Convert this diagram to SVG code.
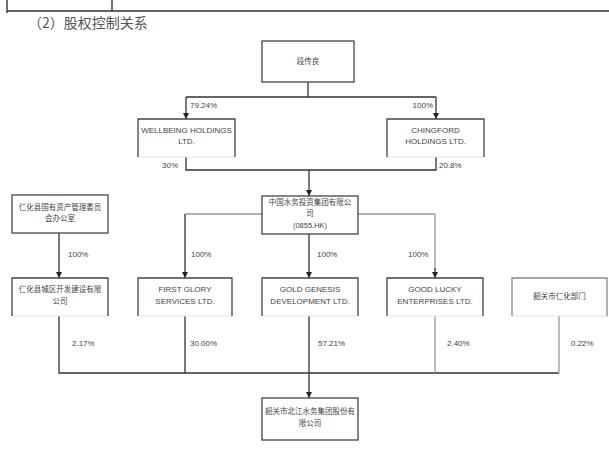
<svg xmlns="http://www.w3.org/2000/svg" width="609" height="451" viewBox="0 0 609 451">
<defs>
<marker id="arr" viewBox="0 0 10 10" refX="10" refY="5" markerWidth="6" markerHeight="6" orient="auto" markerUnits="userSpaceOnUse">
<path d="M0,0 L10,5 L0,10 z" fill="#222"/>
</marker>
<style>
.box{fill:#fff;stroke:#444;stroke-width:1.3}
.open{fill:#fff;stroke:none}
.side{fill:none;stroke:#444;stroke-width:1.3}
.faint{fill:none;stroke:#e2e2e2;stroke-width:1}
.en{font-family:"Liberation Sans",Arial,sans-serif;font-size:8px;fill:#444;text-anchor:middle}
.cn{font-family:"Liberation Sans","Noto Sans CJK SC",sans-serif;font-size:7.5px;fill:#444;text-anchor:middle}
.pct{font-family:"Liberation Sans",Arial,sans-serif;font-size:8px;fill:#444}
.ln{fill:none;stroke:#333;stroke-width:1.3}
.lt{fill:none;stroke:#999;stroke-width:1.3}
.head{font-family:"Noto Sans CJK SC",sans-serif;font-size:14px;fill:#555}
</style>
</defs>
<rect width="609" height="451" fill="#fff"/>
<g id="table">
<path d="M7 11 H609 M7 0 V13 M112 0 V11" fill="none" stroke="#333" stroke-width="1.4"/>
</g>
<text class="head" x="28" y="28">（2）股权控制关系</text>

<g id="connectors">
<path class="ln" d="M308 82 V97 M186 97 H436"/>
<path class="ln" d="M186 97 V119" marker-end="url(#arr)"/>
<path class="ln" d="M436 97 V119" marker-end="url(#arr)"/>
<path class="ln" d="M186 157 V170 H436 V157"/>
<path class="ln" d="M309 170 V196" marker-end="url(#arr)"/>
<path class="lt" d="M262 214 H185"/>
<path class="ln" d="M185 214 V278" marker-end="url(#arr)"/>
<path class="lt" d="M358 214 H435"/>
<path class="lt" d="M435 214 V270"/>
<path class="ln" d="M435 268 V278" marker-end="url(#arr)"/>
<path class="ln" d="M309 234 V278" marker-end="url(#arr)"/>
<path class="ln" d="M59 233 V278" marker-end="url(#arr)"/>
<path class="ln" d="M59 316 V373 H559 M185 316 V373"/>
<path class="lt" d="M435 316 V373 M559 316 V373"/>
<path class="ln" d="M309 316 V398" marker-end="url(#arr)"/>
<text class="pct" x="190" y="108">79.24%</text>
<text class="pct" x="433" y="108" text-anchor="end">100%</text>
<text class="pct" x="162" y="168">30%</text>
<text class="pct" x="439" y="168">20.8%</text>
<text class="pct" x="68" y="257">100%</text>
<text class="pct" x="191" y="257">100%</text>
<text class="pct" x="317" y="257">100%</text>
<text class="pct" x="408" y="257">100%</text>
<text class="pct" x="72" y="346">2.17%</text>
<text class="pct" x="190" y="346">30.00%</text>
<text class="pct" x="318" y="346">57.21%</text>
<text class="pct" x="447" y="346">2.40%</text>
<text class="pct" x="571" y="346">0.22%</text>
</g>

<g id="n-top">
<rect class="box" x="262" y="41" width="92" height="41"/>
<text class="cn" x="308" y="64" font-size="8">段传良</text>
</g>

<g id="n-wellbeing">
<rect class="open" x="138" y="119" width="97" height="38"/>
<path class="faint" d="M138 157 H235"/>
<path class="side" d="M138 157 V119 H235 V157"/>
<text class="en" x="186.5" y="133">WELLBEING HOLDINGS</text>
<text class="en" x="186.5" y="144">LTD.</text>
</g>

<g id="n-chingford">
<rect class="open" x="387" y="119" width="97" height="38"/>
<path class="faint" d="M387 157 H484"/>
<path class="side" d="M387 157 V119 H484 V157"/>
<text class="en" x="435.5" y="133">CHINGFORD</text>
<text class="en" x="435.5" y="144">HOLDINGS LTD.</text>
</g>

<g id="n-parent">
<rect class="box" x="262" y="196" width="96" height="38"/>
<text class="cn" x="310" y="205">中国水务投资集团有限公</text>
<text class="cn" x="310" y="216">司</text>
<text class="cn" x="310" y="228">(0855.HK)</text>
</g>

<g id="n-gov">
<rect class="box" x="12" y="195" width="96" height="38"/>
<text class="cn" x="60" y="210">仁化县国有资产管理委员</text>
<text class="cn" x="60" y="221">会办公室</text>
</g>

<g id="n-city">
<rect class="open" x="12" y="278" width="96" height="38"/>
<path class="faint" d="M12 316 H108"/>
<path class="side" d="M12 316 V278 H108 V316"/>
<text class="cn" x="60" y="292">仁化县城区开发建设有限</text>
<text class="cn" x="60" y="304">公司</text>
</g>

<g id="n-firstglory">
<rect class="open" x="138" y="278" width="94" height="38"/>
<path class="faint" d="M138 316 H232"/>
<path class="side" d="M138 316 V278 H232 V316"/>
<text class="en" x="185" y="292">FIRST GLORY</text>
<text class="en" x="185" y="304">SERVICES LTD.</text>
</g>

<g id="n-goldgenesis">
<rect class="open" x="262" y="278" width="96" height="38"/>
<path class="faint" d="M262 316 H358"/>
<path class="side" d="M262 316 V278 H358 V316"/>
<text class="en" x="310" y="292">GOLD GENESIS</text>
<text class="en" x="310" y="304">DEVELOPMENT LTD.</text>
</g>

<g id="n-goodlucky">
<rect class="open" x="387" y="278" width="96" height="38"/>
<path class="faint" d="M387 316 H483"/>
<path class="side" d="M387 316 V278 H483 V316"/>
<text class="en" x="435" y="292">GOOD LUCKY</text>
<text class="en" x="435" y="304">ENTERPRISES LTD.</text>
</g>

<g id="n-other">
<rect class="open" x="512" y="278" width="95" height="38"/>
<path class="faint" d="M512 316 H607"/>
<path d="M512 316 V278 H607 V316" fill="none" stroke="#888" stroke-width="1.3"/>
<text class="cn" x="559.5" y="299">韶关市仁化部门</text>
</g>

<g id="n-target">
<rect class="box" x="262" y="398" width="96" height="42" stroke="#777"/>
<text class="cn" x="310" y="414" font-size="7">韶关市北江水务集团股份有</text>
<text class="cn" x="310" y="426" font-size="7">限公司</text>
</g>
</svg>
